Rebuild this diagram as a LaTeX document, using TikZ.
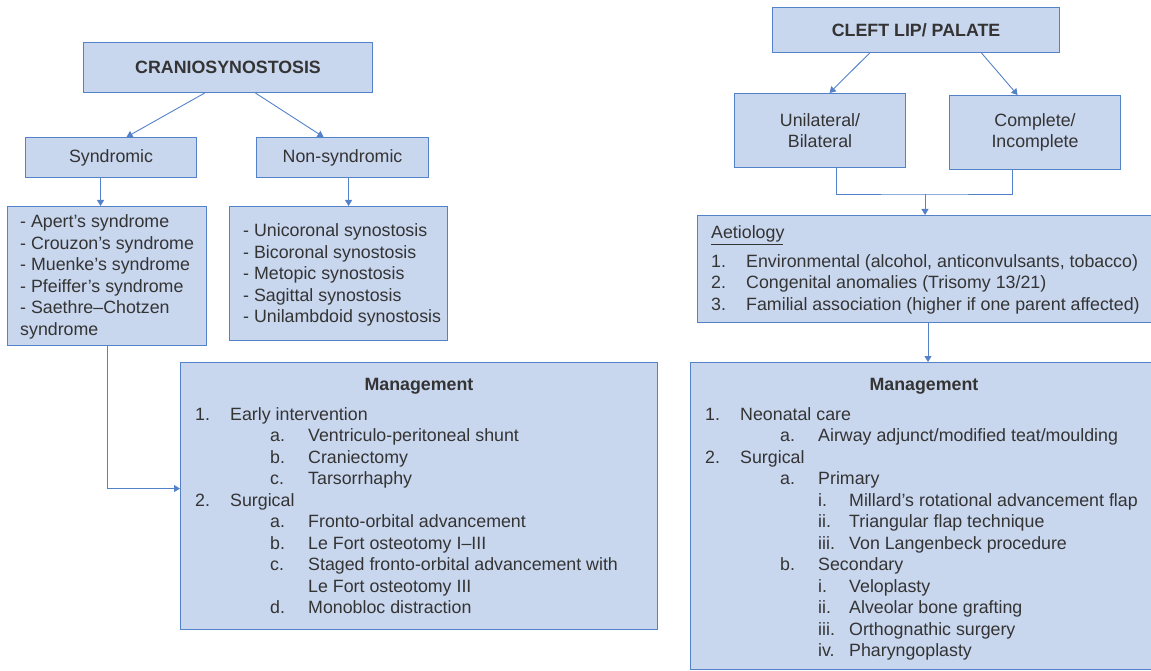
\documentclass[tikz,border=0pt]{standalone}
\usepackage{fontspec}
\setmainfont{Liberation Sans}
\usepackage{tikz}
\usetikzlibrary{positioning, arrows.meta}

\definecolor{boxfill}{RGB}{200,214,238}
\definecolor{boxline}{RGB}{84,130,200}
\definecolor{textgray}{RGB}{52,52,52}

\begin{document}
\begin{tikzpicture}[
    x=1pt, y=-1pt,
    every node/.style={font=\fontsize{17.8}{21.5}\selectfont, text=textgray},
    box/.style={draw=boxline, fill=boxfill, line width=1.1pt, inner sep=0pt, anchor=north west, align=center},
    txt/.style={anchor=base west, inner sep=0pt},
    link/.style={draw=boxline, line width=0.9pt},
    arr/.style={link, -{Triangle[length=6pt, width=7pt]}}
]
\useasboundingbox (0,0) rectangle (1151,671);

% craniosynostosis side
\node[box, minimum width=289, minimum height=50, font=\fontsize{17.8}{21.5}\selectfont\bfseries] (cranio) at (83,42) {CRANIOSYNOSTOSIS};
\node[box, minimum width=171, minimum height=40] (synd) at (25,137) {Syndromic};
\node[box, minimum width=172, minimum height=40] (nonsynd) at (256,137) {Non-syndromic};
\node[box, minimum width=199, minimum height=139] (syndlist) at (7,206) {};
\node[box, minimum width=218, minimum height=134] (nonsyndlist) at (229,206) {};
\node[box, minimum width=477, minimum height=267] (mgmtL) at (180,362) {};

\draw[arr] ([xshift=-23.5pt]cranio.south) -- ([xshift=15.5pt]synd.north);
\draw[arr] ([xshift=27.5pt]cranio.south) -- ([xshift=-19pt]nonsynd.north);
\draw[arr] ([xshift=-10.5pt]synd.south) -- ([xshift=-10.5pt]synd.south |- syndlist.north);
\draw[arr] ([xshift=6pt]nonsynd.south) -- ([xshift=6pt]nonsynd.south |- nonsyndlist.north);
\draw[arr] (syndlist.south) |- ([yshift=7.5pt]mgmtL.west);

\foreach \item [count=\i] in {Apert’s syndrome, Crouzon’s syndrome, Muenke’s syndrome, Pfeiffer’s syndrome, Saethre–Chotzen}
    \node[txt] at (20,{228+21.4*(\i-1)}) {- \item};
\node[txt] at (20,335) {syndrome};
\foreach \item [count=\i] in {Unicoronal synostosis, Bicoronal synostosis, Metopic synostosis, Sagittal synostosis, Unilambdoid synostosis}
    \node[txt] at (243,{236.7+21.5*(\i-1)}) {- \item};

\node[anchor=base, inner sep=0pt, font=\fontsize{17.8}{21.5}\selectfont\bfseries] at (419,390) {Management};
\foreach \nx/\tx/\lab/\body [count=\i] in {
    195/230/1./Early intervention,
    270/308/a./Ventriculo-peritoneal shunt,
    270/308/b./Craniectomy,
    270/308/c./Tarsorrhaphy,
    195/230/2./Surgical,
    270/308/a./Fronto-orbital advancement,
    270/308/b./Le Fort osteotomy I–III,
    270/308/c./Staged fronto-orbital advancement with,
    270/308//Le Fort osteotomy III,
    270/308/d./Monobloc distraction}
{
    \node[txt] at (\nx,{420+21.5*(\i-1)}) {\lab};
    \node[txt] at (\tx,{420+21.5*(\i-1)}) {\body};
}

% cleft lip / palate side
\node[box, minimum width=287, minimum height=45, font=\fontsize{17.8}{21.5}\selectfont\bfseries] (cleft) at (772,7) {CLEFT LIP/ PALATE};
\node[box, minimum width=171, minimum height=74] (unibi) at (734,93) {Unilateral/\\Bilateral};
\node[box, minimum width=171, minimum height=74] (compl) at (949,95) {Complete/\\Incomplete};
\node[box, minimum width=462, minimum height=107] (aetio) at (697,215) {};
\node[box, minimum width=470, minimum height=307] (mgmtR) at (690,362) {};
\coordinate (join) at (925,194);

\draw[arr] ([xshift=-46.5pt]cleft.south) -- ([xshift=9.5pt]unibi.north);
\draw[arr] ([xshift=65.5pt]cleft.south) -- ([xshift=-17.5pt]compl.north);
\draw[link] ([xshift=16.5pt]unibi.south) |- (join) -| ([xshift=-22.5pt]compl.south);
\draw[arr] (join) -- (join |- aetio.north);
\draw[arr] (928,322) -- (928,362);

\node[txt] (aetiotitle) at (711,238) {Aetiology};
\draw[textgray, line width=0.9pt] (711,244) -- (783,244);
\foreach \lab/\body [count=\i] in {
    1./{Environmental (alcohol, anticonvulsants, tobacco)},
    2./{Congenital anomalies (Trisomy 13/21)},
    3./{Familial association (higher if one parent affected)}}
{
    \node[txt] at (711,{267+21.7*(\i-1)}) {\lab};
    \node[txt] at (746,{267+21.7*(\i-1)}) {\body};
}

\node[anchor=base, inner sep=0pt, font=\fontsize{17.8}{21.5}\selectfont\bfseries] at (924,390) {Management};
\foreach \nx/\tx/\lab/\body [count=\i] in {
    705/740/1./Neonatal care,
    780/818/a./{Airway adjunct/modified teat/moulding},
    705/740/2./Surgical,
    780/818/a./Primary,
    818/849/i./Millard’s rotational advancement flap,
    818/849/ii./Triangular flap technique,
    818/849/iii./Von Langenbeck procedure,
    780/818/b./Secondary,
    818/849/i./Veloplasty,
    818/849/ii./Alveolar bone grafting,
    818/849/iii./Orthognathic surgery,
    818/849/iv./Pharyngoplasty}
{
    \node[txt] at (\nx,{420+21.5*(\i-1)}) {\lab};
    \node[txt] at (\tx,{420+21.5*(\i-1)}) {\body};
}
\end{tikzpicture}
\end{document}
